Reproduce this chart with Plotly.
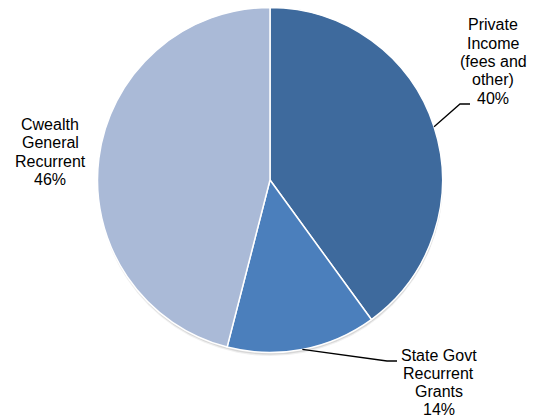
import math
import plotly.graph_objects as go

# ---- data ----
categories = ["Private Income (fees and other)", "State Govt Recurrent Grants", "Cwealth General Recurrent"]
values = [40, 14, 46]
label_lines = [
    ["Private", "Income", "(fees and", "other)", "40%"],
    ["State Govt", "Recurrent", "Grants", "14%"],
    ["Cwealth", "General", "Recurrent", "46%"],
]
colors = ["#3E6A9D", "#4B7FBC", "#AABAD7"]

# ---- layout geometry (pixels) ----
W, H = 541, 420
cx, cy, R = 270, 180, 172.5
label_centers = [(493, 61.5), (439, 382.5), (50, 152)]   # centre of each label block
elbows = [[(460, 104), (470, 104)], [(387, 361), (397, 361)], None]
line_h = 18.3
font = dict(family="Liberation Sans, Arial, sans-serif", size=16, color="#000000")

def px(x):
    return x / W

def py(y):
    return 1 - y / H

fig = go.Figure()
fig.add_trace(go.Pie(
    labels=categories,
    values=values,
    sort=False,
    direction="clockwise",
    rotation=0,
    marker=dict(colors=colors, line=dict(color="#FFFFFF", width=1.5)),
    textinfo="none",
    hoverinfo="label+percent",
    showlegend=False,
    domain=dict(x=[px(cx - R), px(cx + R)], y=[py(cy + R), py(cy - R)]),
))

annotations = []
shapes = []

# soft shadow under pie
for off, col in [(3.5, "rgba(0,0,0,0.06)"), (2.2, "rgba(0,0,0,0.10)")]:
    shapes.append(dict(type="circle", xref="paper", yref="paper", layer="below",
                       x0=px(cx - R + 0.5), x1=px(cx + R + 0.5),
                       y0=py(cy + R + off), y1=py(cy - R + off),
                       fillcolor=col, line=dict(width=0)))

total = sum(values)
cum = 0
for i, v in enumerate(values):
    mid = (cum + v / 2) / total * 2 * math.pi
    cum += v
    ex = cx + R * math.sin(mid)
    ey = cy - R * math.cos(mid)
    lx, ly = label_centers[i]
    n = len(label_lines[i])
    for k, t in enumerate(label_lines[i]):
        yk = ly + (k - (n - 1) / 2) * line_h
        annotations.append(dict(text=t, x=px(lx), y=py(yk), xref="paper", yref="paper",
                                showarrow=False, xanchor="center", yanchor="middle",
                                font=font))
    if elbows[i]:
        pts = [(ex, ey)] + elbows[i]
        path = "M " + " L ".join(f"{px(a)},{py(b)}" for a, b in pts)
        shapes.append(dict(type="path", xref="paper", yref="paper", path=path,
                           line=dict(color="#000000", width=1.3)))

fig.update_layout(
    width=W, height=H,
    margin=dict(l=0, r=0, t=0, b=0),
    paper_bgcolor="#FFFFFF",
    plot_bgcolor="#FFFFFF",
    annotations=annotations,
    shapes=shapes,
)

fig.write_html(
    "out.html",
    config={"displayModeBar": False},
    post_script="document.body.style.margin='0px';document.body.style.overflow='hidden';",
)
